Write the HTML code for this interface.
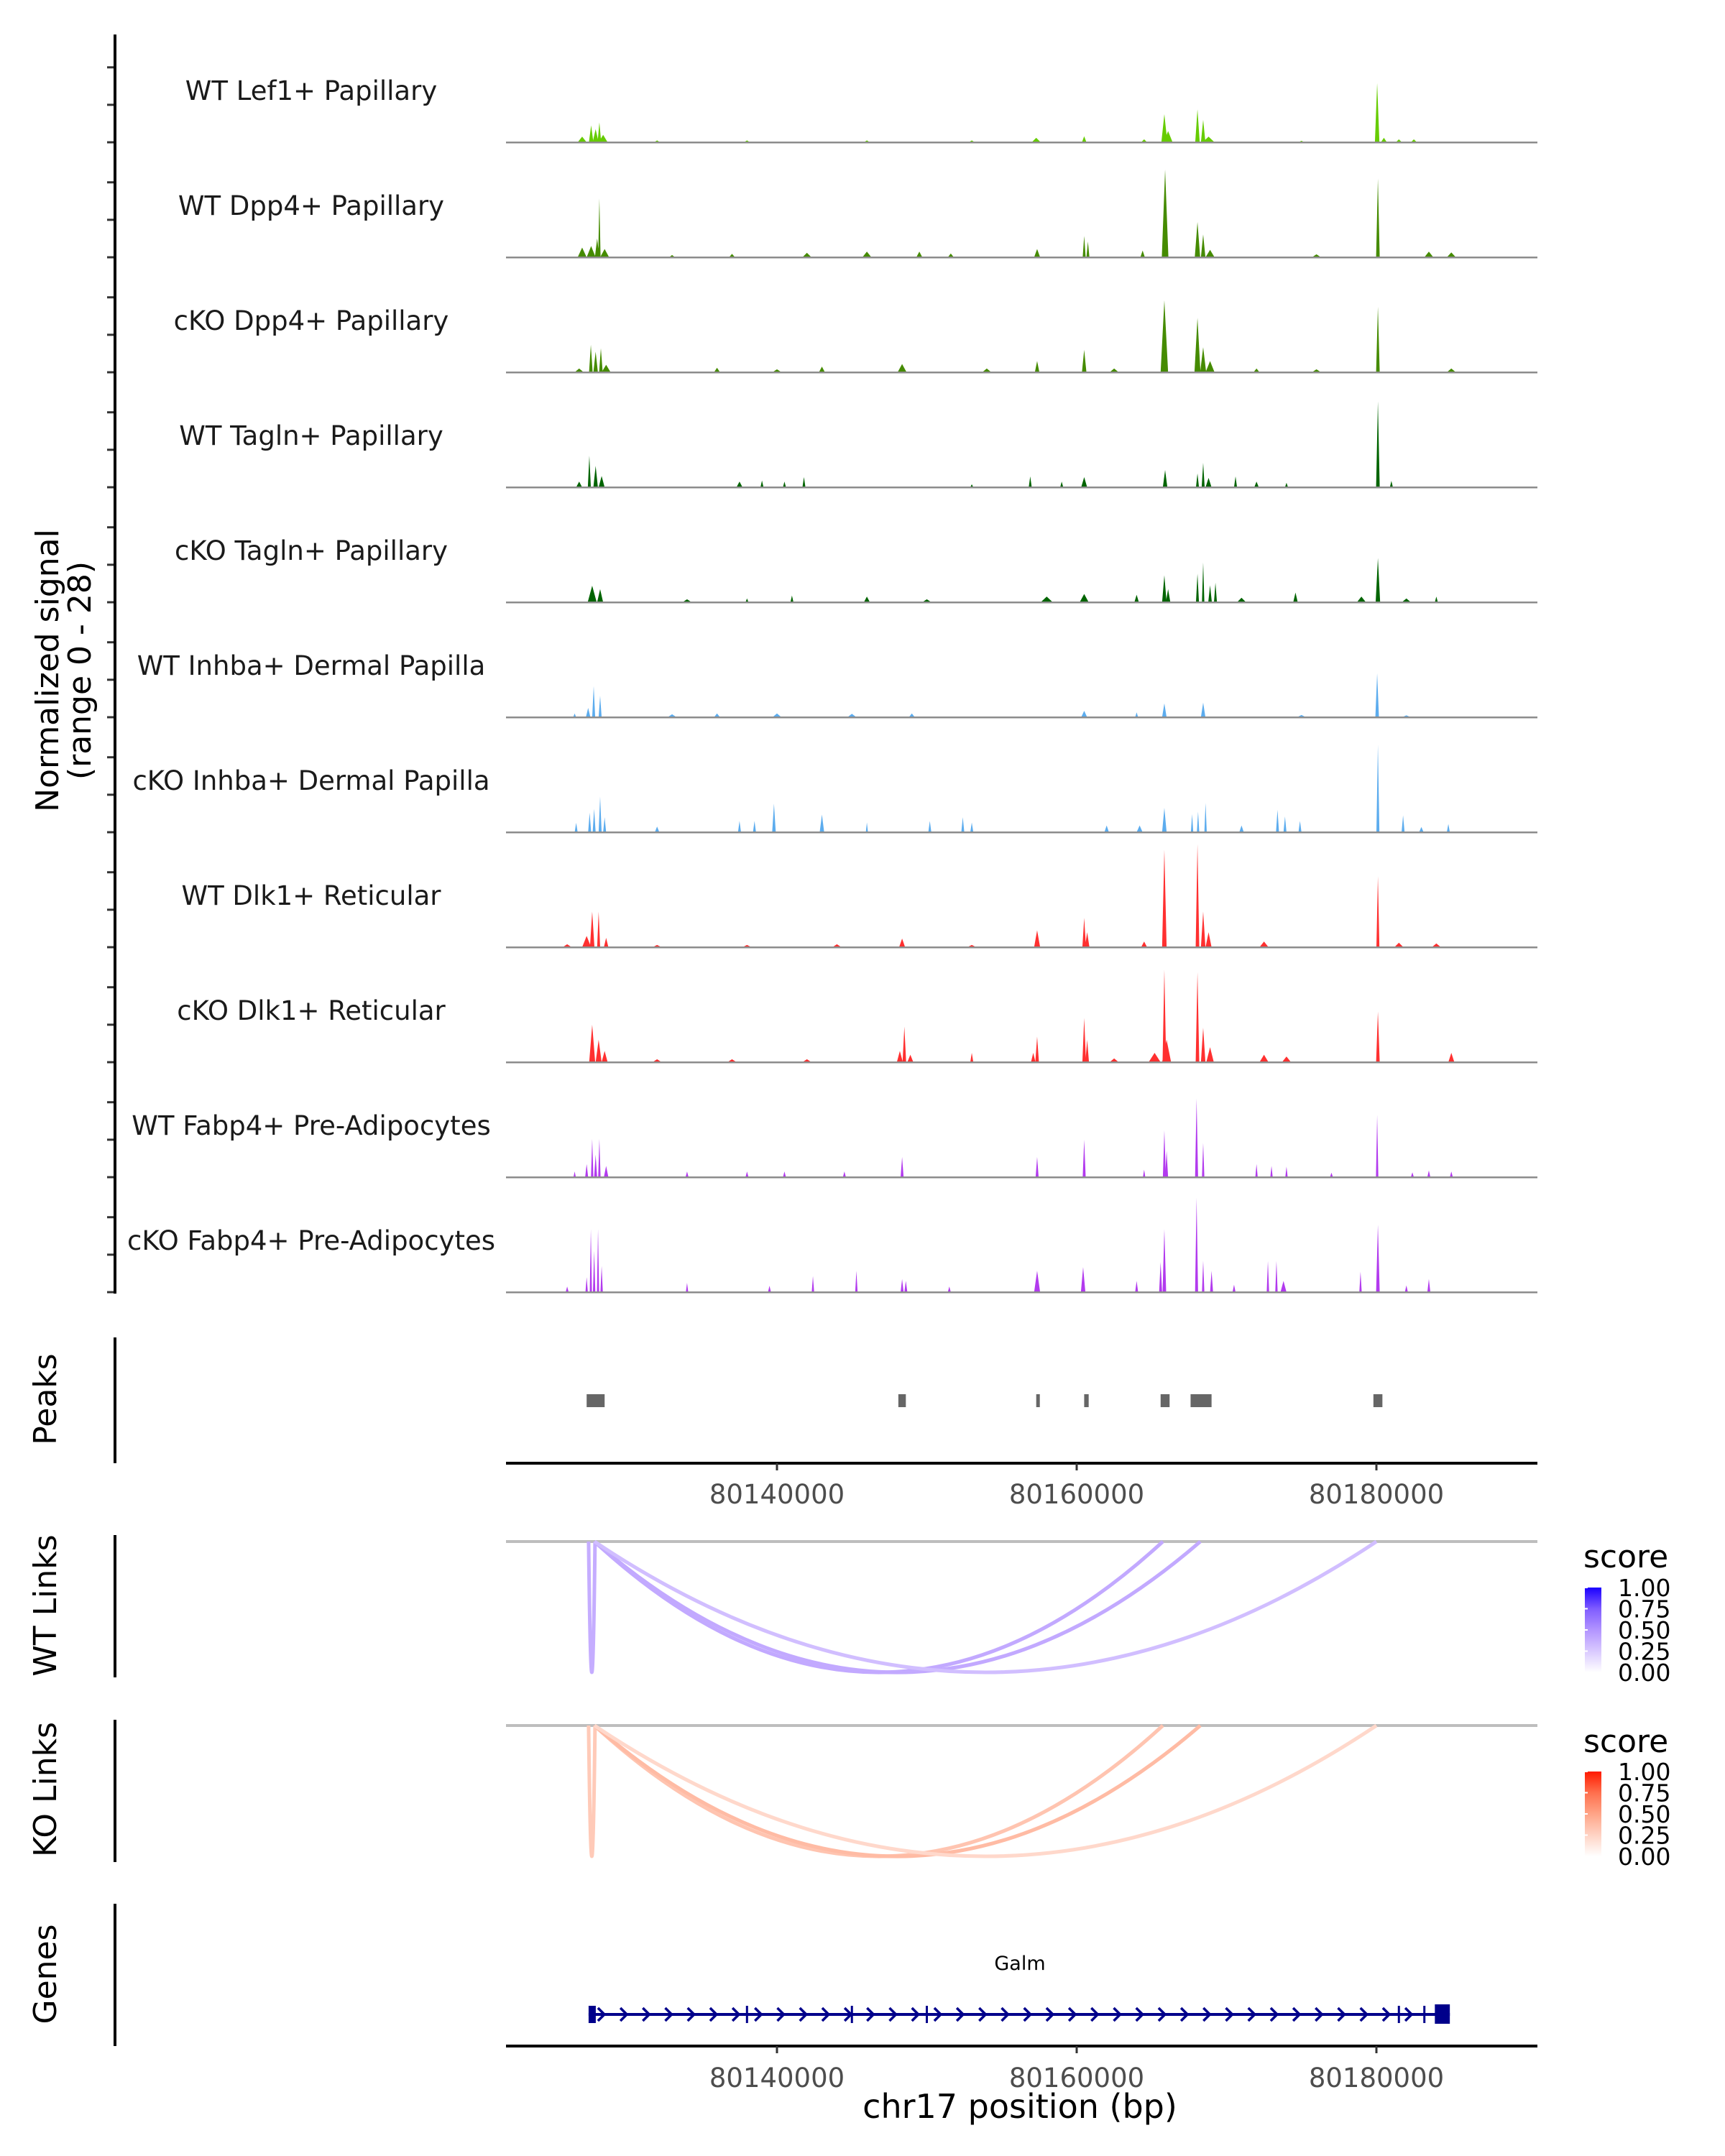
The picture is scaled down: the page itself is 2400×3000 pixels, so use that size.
<!DOCTYPE html>
<html><head><meta charset="utf-8">
<style>
html,body{margin:0;padding:0;background:#fff;}
svg{display:block;font-family:"DejaVu Sans","Liberation Sans",sans-serif;}
</style></head>
<body>
<svg id="chart" width="2400" height="3000" viewBox="0 0 2400 3000" xmlns="http://www.w3.org/2000/svg">
<defs>
<linearGradient id="gradBlue" x1="0" y1="1" x2="0" y2="0">
<stop offset="0" stop-color="#ffffff"/><stop offset="0.25" stop-color="#d9c9ff"/><stop offset="0.5" stop-color="#b294ff"/><stop offset="0.75" stop-color="#7f5cff"/><stop offset="1" stop-color="#1a00ff"/>
</linearGradient>
<linearGradient id="gradRed" x1="0" y1="1" x2="0" y2="0">
<stop offset="0" stop-color="#ffffff"/><stop offset="0.25" stop-color="#ffd3c4"/><stop offset="0.5" stop-color="#ffa487"/><stop offset="0.75" stop-color="#ff6f4d"/><stop offset="1" stop-color="#ff1a00"/>
</linearGradient>
<clipPath id="panelClip"><rect x="704" y="0" width="1435" height="3000"/></clipPath>
</defs>
<g id="tracks" clip-path="url(#panelClip)"></g>
<g id="labels"></g>
<g id="axes"></g>
<g id="peaks"></g>
<g id="links"></g>
<g id="genes"></g>
<g id="legend">
  <text x="2203" y="2181" font-size="44" fill="#000">score</text>
  <rect x="2205" y="2209" width="23" height="118" fill="url(#gradBlue)"/>
  <text x="2203" y="2438" font-size="44" fill="#000">score</text>
  <rect x="2205" y="2465" width="23" height="118" fill="url(#gradRed)"/>
</g>
<text x="1419" y="2947" font-size="46" text-anchor="middle" fill="#000">chr17 position (bp)</text>
</svg>
<script>
// ---- data (kb offsets from 80,120,000) ----
const trackNames = ["WT Lef1+ Papillary","WT Dpp4+ Papillary","cKO Dpp4+ Papillary","WT Tagln+ Papillary","cKO Tagln+ Papillary","WT Inhba+ Dermal Papilla","cKO Inhba+ Dermal Papilla","WT Dlk1+ Reticular","cKO Dlk1+ Reticular","WT Fabp4+ Pre-Adipocytes","cKO Fabp4+ Pre-Adipocytes"];
const trackColors = ["#66cc00","#458b00","#458b00","#006400","#006400","#5cacee","#5cacee","#ff3030","#ff3030","#b23aee","#b23aee"];
// each peak: [position kb, height (signal), half-width kb]
const peaks0 = [[7.0,1.5,0.3],[7.6,4.5,0.15],[7.9,3.5,0.2],[8.15,5.3,0.12],[8.4,2,0.3],[45.85,7.5,0.2],[46.1,3,0.3],[48.06,8.8,0.15],[48.44,6,0.15],[48.8,1.5,0.4],[60.05,15.8,0.15],[60.5,1.2,0.2],[40.5,1.6,0.15],[37.3,1.2,0.3],[61.5,0.8,0.2],[62.5,0.8,0.2],[12,0.5,0.2],[18,0.5,0.2],[26,0.5,0.2],[33,0.5,0.2],[44.5,0.8,0.2],[55,0.4,0.2]];
const peaks1 = [[7.0,2.6,0.3],[7.6,3,0.3],[8.0,5,0.15],[8.15,15.7,0.08],[8.5,2.2,0.3],[45.9,23.4,0.22],[48.06,9.4,0.18],[48.44,6.1,0.15],[48.9,2,0.3],[60.1,21,0.12],[40.5,5.7,0.1],[40.75,4.2,0.1],[37.36,2.2,0.2],[44.4,1.8,0.15],[29.5,1.5,0.2],[22,1.2,0.3],[26,1.5,0.3],[31.6,1,0.2],[63.5,1.5,0.3],[65,1.3,0.3],[56,0.8,0.3],[13,0.6,0.2],[17,0.9,0.2]];
const peaks2 = [[6.8,1,0.3],[7.58,7.3,0.12],[7.9,5.5,0.15],[8.25,6.4,0.12],[8.6,2,0.3],[45.85,19.2,0.25],[48.06,14.5,0.2],[48.44,6.7,0.2],[48.9,3,0.3],[60.1,17.5,0.12],[40.5,6,0.15],[37.36,3,0.15],[28.35,2.2,0.3],[23,1.5,0.2],[16,1.2,0.2],[42.5,1,0.3],[52,1,0.2],[56,0.8,0.3],[65,1,0.3],[20,0.8,0.3],[34,1,0.3]];
const peaks3 = [[7.48,8.4,0.1],[7.9,5.7,0.15],[8.3,3,0.2],[6.8,1.5,0.2],[45.9,4.6,0.15],[48.44,6.5,0.1],[48.06,3.7,0.1],[48.8,2.5,0.2],[50.6,2.9,0.1],[36.9,2.9,0.1],[40.5,2.7,0.2],[21.8,2.7,0.1],[60.1,22.9,0.12],[61,1.7,0.1],[17.5,1.5,0.2],[19,1.8,0.1],[20.5,1.5,0.1],[33,0.8,0.1],[39,1.5,0.1],[52,1.5,0.15],[54,1.2,0.1]];
const peaks4 = [[7.67,4.4,0.3],[8.2,3.5,0.2],[45.85,7.2,0.15],[46.1,3.5,0.15],[48.06,7.6,0.1],[48.44,10.6,0.08],[48.9,4.5,0.12],[49.26,5.2,0.1],[60.1,11.8,0.15],[40.5,2.2,0.3],[54.6,2.6,0.15],[38,1.5,0.4],[59,1.5,0.3],[14,0.8,0.3],[18,1,0.1],[21,1.8,0.1],[26,1.5,0.2],[30,0.8,0.3],[44,2,0.15],[51,1.2,0.3],[62,1,0.3],[64,1.5,0.1]];
const peaks5 = [[7.77,8.3,0.1],[8.2,5.7,0.1],[7.4,2.5,0.15],[6.5,1,0.1],[45.85,3.7,0.15],[48.44,3.9,0.15],[40.5,1.7,0.2],[60.05,11.7,0.12],[44,1.3,0.1],[13,0.8,0.3],[16,1,0.2],[20,1,0.3],[25,0.9,0.3],[29,1,0.2],[55,0.6,0.3],[62,0.5,0.3]];
const peaks6 = [[8.2,9.5,0.1],[7.8,6.2,0.1],[7.5,5.2,0.1],[8.5,4,0.1],[6.6,2.5,0.1],[19.8,7.6,0.12],[23.0,4.7,0.15],[17.5,3,0.1],[18.5,3,0.1],[45.85,6.5,0.15],[48.6,7.8,0.08],[47.7,4.8,0.08],[48.1,5.5,0.08],[53.4,6,0.1],[53.9,4.2,0.1],[54.9,3,0.1],[60.1,23.3,0.1],[61.78,4.5,0.1],[30.2,3,0.1],[33,2.6,0.1],[32.4,4,0.1],[42,1.8,0.15],[44.2,1.8,0.2],[51,1.8,0.15],[64.8,2.2,0.1],[26,2.6,0.05],[12,1.5,0.15],[63,1.4,0.15]];
const peaks7 = [[7.67,9.5,0.15],[8.1,9.5,0.1],[7.3,3,0.3],[8.6,2.5,0.15],[6,0.8,0.3],[45.85,26,0.15],[48.06,27.5,0.12],[48.44,9.5,0.15],[48.8,4,0.2],[60.1,18.9,0.1],[40.5,7.8,0.12],[40.7,4,0.15],[37.36,4.5,0.2],[28.35,2.3,0.2],[44.5,1.5,0.2],[52.5,1.5,0.3],[61.5,1.2,0.3],[64,1,0.3],[12,0.6,0.3],[18,0.6,0.3],[24,0.8,0.3],[33,0.6,0.3]];
const peaks8 = [[7.67,10,0.2],[8.1,6,0.2],[8.5,3,0.2],[45.85,24.7,0.12],[46.0,6,0.3],[48.06,24,0.12],[48.44,9.2,0.15],[48.9,4,0.25],[45.2,2.5,0.4],[60.1,13.5,0.12],[40.5,11.8,0.12],[40.7,6,0.12],[37.36,6.8,0.12],[37.1,2.5,0.15],[28.5,9.5,0.12],[28.2,3,0.2],[28.9,2,0.2],[33,2.5,0.1],[52.5,2,0.3],[54,1.5,0.3],[65,2.5,0.2],[12,0.8,0.3],[17,0.8,0.3],[22,0.8,0.3],[42.5,1,0.3]];
const peaks9 = [[7.67,10.2,0.08],[8.15,10.2,0.08],[7.9,6,0.1],[7.3,3.5,0.1],[8.6,3,0.15],[6.5,1.5,0.08],[48.0,21,0.1],[48.44,9.1,0.08],[45.85,12.5,0.1],[46.0,7,0.1],[60.05,16.6,0.08],[40.5,10,0.1],[37.36,5.4,0.1],[28.35,5.4,0.1],[52,3.5,0.08],[53,3,0.08],[54,2.8,0.08],[44.5,2,0.08],[14,1.5,0.1],[18,1.5,0.1],[20.5,1.5,0.1],[24.5,1.5,0.1],[65,1.5,0.1],[63.5,1.8,0.1],[62.4,1.3,0.1],[57,1.2,0.1]];
const peaks10 = [[7.58,16.8,0.06],[8.06,16.8,0.06],[7.8,11,0.08],[8.3,7,0.08],[7.3,4,0.08],[6,1.5,0.1],[48.0,25.2,0.1],[48.44,8.4,0.08],[49.0,5.7,0.1],[45.85,16.8,0.12],[45.6,8,0.1],[60.1,18,0.12],[58.94,5.5,0.08],[40.43,6.7,0.15],[37.36,5.7,0.2],[52.76,8.3,0.08],[53.33,8.3,0.08],[53.8,3,0.2],[25.3,5.7,0.08],[22.4,4.3,0.08],[28.35,3.5,0.1],[28.6,3,0.1],[44,3,0.1],[14,2.5,0.08],[19.5,1.7,0.1],[63.5,3.5,0.1],[62,1.8,0.1],[50.5,2,0.1],[31.5,1.5,0.1]];
const trackPeaks = [peaks0,peaks1,peaks2,peaks3,peaks4,peaks5,peaks6,peaks7,peaks8,peaks9,peaks10];
const peakRegions = [[7.3,8.5],[28.1,28.6],[37.3,37.5],[40.5,40.8],[45.6,46.2],[47.6,49.0],[59.8,60.4]];
const xTickValues = [80140000,80160000,80180000];
const xTickLabels = ["80140000","80160000","80180000"];
const wtLinks = [[7.43,7.86,0.38],[7.82,45.75,0.4],[7.82,48.25,0.4],[7.82,60.0,0.3]];
const koLinks = [[7.43,7.86,0.3],[7.82,45.75,0.33],[7.82,48.25,0.38],[7.82,60.0,0.22]];
const legendLabels = ["1.00","0.75","0.50","0.25","0.00"];
const geneStartKb = 7.43, geneEndKb = 64.9;
const exonMarks = [18.0,25.0,30.0,61.5,63.2];
const yMax = 28;

// ---- scales ----
const NS='http://www.w3.org/2000/svg';
function X(kb){ return 1081 + (kb-20)*20.85; }
function Xbp(bp){ return X((bp-80120000)/1000); }
const trackH = 146, base0 = 198, trackStep = 160;
function Y(i,v){ return base0 + i*trackStep - Math.min(v,yMax)/yMax*trackH; }
function mk(tag, attrs, parent){ const e=document.createElementNS(NS,tag); for(const k in attrs) e.setAttribute(k,attrs[k]); parent.appendChild(e); return e; }
const gT=document.getElementById('tracks'), gL=document.getElementById('labels'), gA=document.getElementById('axes');

trackPeaks.forEach((pk,i)=>{
  const base = Y(i,0);
  const g = mk('g',{},gT);
  
  
  pk.forEach(p=>{
    const cx=X(p[0]), hw=Math.max(p[2]*20.85,1.5);
    const poly = mk('polygon',{points:(cx-hw)+','+base+' '+cx+','+Y(i,p[1])+' '+(cx+hw)+','+base, fill:trackColors[i]},g);
    
    
  });
  const bl = mk('rect',{x:704,y:base-1,width:1435,height:2.5,fill:'#8c8c8c'},g);
  
  
  const t = mk('text',{x:433,y:base-59,'font-size':37,'text-anchor':'middle',fill:'#1a1a1a'},gL);
  t.textContent = trackNames[i];
  
  
  [0,10,20].forEach(v=>{
    const tk = mk('rect',{x:149,y:Y(i,v)-1.5,width:11,height:3,fill:'#333'},gA);
    
    
  });
});
[[48,1800],[1861,2036],[2136,2334],[2393,2591],[2649,2847]].forEach(s=>{
  const l = mk('rect',{x:158,y:s[0],width:4,height:s[1]-s[0],fill:'#000'},gA);
  
  
});
function vtitle(txt,cx,cy,name){
  const t = mk('text',{x:cx,y:cy,'font-size':44,'text-anchor':'middle',fill:'#000',transform:'rotate(-90 '+cx+' '+cy+')'},gA);
  t.textContent=txt;
  
  
}
vtitle('Normalized signal',81,933,'y-axis-title');
vtitle('(range 0 - 28)',126,933,'y-axis-subtitle');
vtitle('Peaks',78,1947,'peaks-title');
vtitle('WT Links',78,2234,'wt-links-title');
vtitle('KO Links',78,2490,'ko-links-title');
vtitle('Genes',78,2747,'genes-title');
[[2036,2080],[2847,2892]].forEach((a,k)=>{
  const l = mk('rect',{x:704,y:a[0]-2,width:1435,height:4,fill:'#000'},gA);
  
  
  xTickValues.forEach((v,j)=>{
    const tk = mk('rect',{x:Xbp(v)-1.5,y:a[0],width:3,height:10,fill:'#333'},gA);
    
    
    const t = mk('text',{x:Xbp(v),y:a[1]+12,'font-size':37,'text-anchor':'middle',fill:'#4d4d4d'},gA);
    t.textContent=xTickLabels[j];
    
    
  });
});
const gP=document.getElementById('peaks');
peakRegions.forEach(r=>{
  const e = mk('rect',{x:X(r[0]),y:1940,width:Math.max(X(r[1])-X(r[0]),5),height:18,fill:'#666'},gP);
  
  
});
function interp(stops,s){
  for(let i=0;i<stops.length-1;i++){
    const a=stops[i],b=stops[i+1];
    if(s<=b[0]){ const t=(s-a[0])/(b[0]-a[0]); return 'rgb('+[0,1,2].map(c=>Math.round(a[1][c]+(b[1][c]-a[1][c])*t)).join(',')+')'; }
  }
  return 'rgb('+stops[stops.length-1][1].join(',')+')';
}
const blueStops=[[0,[255,255,255]],[0.25,[217,201,255]],[0.5,[178,148,255]],[0.75,[127,92,255]],[1,[26,0,255]]];
const redStops=[[0,[255,255,255]],[0.25,[255,211,196]],[0.5,[255,164,135]],[0.75,[255,111,77]],[1,[255,26,0]]];
const gK=document.getElementById('links');
function drawLinks(data,base,stops,name){
  const bl = mk('rect',{x:704,y:base-2,width:1435,height:4,fill:'#bebebe'},gK);
  
  
  const depth=182;
  data.forEach(l=>{
    const x1=X(l[0]),x2=X(l[1]),m=(x1+x2)/2;
    const p = mk('path',{d:'M'+x1+','+base+' Q'+m+','+(base+2*depth)+' '+x2+','+base,fill:'none',stroke:interp(stops,l[2]),'stroke-width':5},gK);
    
    
  });
}
drawLinks(wtLinks,2145,blueStops,'wt-link');
drawLinks(koLinks,2401,redStops,'ko-link');
const gLg=document.getElementById('legend');
[[2209],[2465]].forEach((b,k)=>{
  legendLabels.forEach((s,j)=>{
    const y=b[0]+j*29.5;
    const t = mk('text',{x:2251,y:y+12,'font-size':33,fill:'#000'},gLg);
    t.textContent=s;
    
    
    const tk = mk('rect',{x:2205,y:y-1,width:4,height:2,fill:'#fff'},gLg);
    
    
  });
});
const gG=document.getElementById('genes');
const gl = mk('rect',{x:X(geneStartKb),y:2801,width:X(geneEndKb)-X(geneStartKb),height:4,fill:'#00008b'},gG);


for(let x=X(geneStartKb)+18;x<X(geneEndKb)-30;x+=31.2){
  const c = mk('path',{d:'M'+(x-5)+',2794 L'+(x+4)+',2803 L'+(x-5)+',2812',fill:'none',stroke:'#00008b','stroke-width':3.5},gG);
  
  
}
const ex0 = mk('rect',{x:X(geneStartKb),y:2791,width:10,height:24,fill:'#00008b'},gG);


exonMarks.forEach(k=>{
  const e = mk('rect',{x:X(k)-1.5,y:2791,width:3,height:24,fill:'#00008b'},gG);
  
  
});
const exL = mk('rect',{x:X(63.9),y:2789,width:X(geneEndKb)-X(63.9),height:27,fill:'#00008b'},gG);


const gt = mk('text',{x:1419,y:2741,'font-size':27,'text-anchor':'middle',fill:'#000'},gG);
gt.textContent='Galm';


</script>
</body></html>
